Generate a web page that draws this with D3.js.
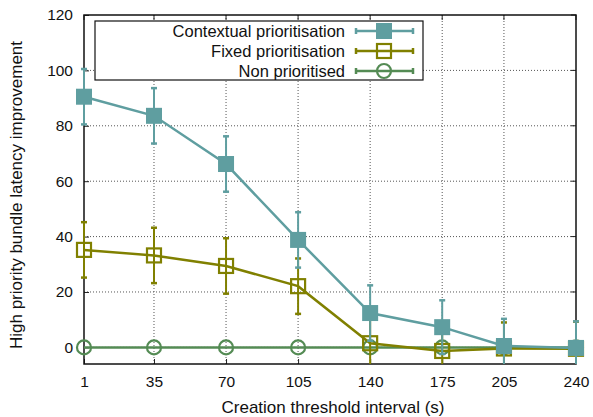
<!DOCTYPE html>
<html>
<head>
<meta charset="utf-8">
<script src="https://cdn.jsdelivr.net/npm/d3@7"></script>
<style>
  body { margin: 0; background: #fff; }
  text { font-family: "Liberation Sans", Arial, sans-serif; fill: #111; }
</style>
</head>
<body>
<div id="chart"></div>
<script>
// Creation threshold interval (s)
var intervals = [1, 35, 70, 105, 140, 175, 205, 240];

var contextualMean = [90.5, 83.6, 66.2, 38.8, 12.4, 7.3, 0.5, -0.2];
var contextualErr  = [10, 10, 10, 10, 10, 9.7, 9.8, 9.6];

var fixedMean = [35.2, 33.2, 29.4, 22.1, 1.5, -1.3, -0.4, -0.5];
var fixedErr  = [10, 10, 10, 10, 10, 9.5, 9.4, 9.8];

var nonMean = [0, 0, 0, 0, 0, 0, 0, 0];
var nonErr  = [0, 0, 0, 0, 0, 0, 0, 0];

var yTicks = [0, 20, 40, 60, 80, 100, 120];

var series = [
  {name: "Contextual prioritisation", mean: contextualMean, err: contextualErr, color: "#5f9ea0", marker: "filledSquare"},
  {name: "Fixed prioritisation", mean: fixedMean, err: fixedErr, color: "#808000", marker: "openSquare"},
  {name: "Non prioritised", mean: nonMean, err: nonErr, color: "#548b54", marker: "openCircle"}
];

var margin = {top: 15, right: 17, bottom: 53, left: 84};
var width = 593 - margin.left - margin.right,
    height = 417 - margin.top - margin.bottom;

var svg = d3.select("#chart").append("svg")
  .attr("width", 593)
  .attr("height", 417)
  .append("g")
  .attr("transform", "translate(" + margin.left + "," + margin.top + ")");

var x = d3.scaleLinear().domain([1, 240]).range([0, width]);
var y = d3.scaleLinear().domain([-6, 120]).range([height, 0]);

svg.append("clipPath").attr("id", "plot-clip")
  .append("rect").attr("x", -4).attr("width", width + 8).attr("height", height);

// Grid
svg.append("g").selectAll("line.gx")
  .data(intervals.slice(1, -1))
  .enter().append("line")
  .attr("x1", function(d){ return x(d); }).attr("x2", function(d){ return x(d); })
  .attr("y1", 0).attr("y2", height)
  .attr("stroke", "#555").attr("stroke-width", 1).attr("stroke-dasharray", "1,2");

svg.append("g").selectAll("line.gy")
  .data(yTicks.slice(0, -1))
  .enter().append("line")
  .attr("x1", 0).attr("x2", width)
  .attr("y1", function(d){ return y(d); }).attr("y2", function(d){ return y(d); })
  .attr("stroke", "#555").attr("stroke-width", 1).attr("stroke-dasharray", "1,2");

// Axes
var xAxis = d3.axisBottom(x).tickValues(intervals).tickSize(-5).tickPadding(12);
var yAxis = d3.axisLeft(y).tickValues(yTicks).tickSize(-5).tickPadding(11);

var gx = svg.append("g").attr("transform", "translate(0," + height + ")").call(xAxis);
var gy = svg.append("g").call(yAxis);
[gx, gy].forEach(function(g){
  g.select(".domain").remove();
  g.selectAll(".tick line").attr("stroke", "#222");
  g.selectAll(".tick text").style("font-size", "15.5px").style("fill", "#111")
    .style("font-family", "'Liberation Sans', Arial, sans-serif");
});

// mirror ticks
svg.append("g").selectAll("line")
  .data(intervals).enter().append("line")
  .attr("x1", function(d){ return x(d); }).attr("x2", function(d){ return x(d); })
  .attr("y1", 0).attr("y2", 5).attr("stroke", "#222");
svg.append("g").selectAll("line")
  .data(yTicks).enter().append("line")
  .attr("x1", width).attr("x2", width - 5)
  .attr("y1", function(d){ return y(d); }).attr("y2", function(d){ return y(d); })
  .attr("stroke", "#222");

// Border
svg.append("rect").attr("width", width).attr("height", height)
  .attr("fill", "none").attr("stroke", "#111").attr("stroke-width", 1.5);

// Axis labels
svg.append("text")
  .attr("text-anchor", "middle")
  .attr("transform", "translate(" + (-62) + "," + (180) + ")rotate(-90)")
  .style("font-size", "17px")
  .text("High priority bundle latency improvement");

svg.append("text")
  .attr("text-anchor", "middle")
  .attr("x", width / 2 + 3)
  .attr("y", height + 49)
  .style("font-size", "17px")
  .text("Creation threshold interval (s)");

function drawMarker(g, type, color, cx, cy) {
  if (type == "filledSquare") {
    g.append("rect").attr("x", cx - 8).attr("y", cy - 8).attr("width", 16).attr("height", 16)
      .attr("fill", color);
  } else if (type == "openSquare") {
    g.append("rect").attr("x", cx - 7).attr("y", cy - 7).attr("width", 14).attr("height", 14)
      .attr("fill", "none").attr("stroke", color).attr("stroke-width", 2.2);
  } else {
    g.append("circle").attr("cx", cx).attr("cy", cy).attr("r", 7)
      .attr("fill", "none").attr("stroke", color).attr("stroke-width", 2.2);
  }
}

var line = d3.line()
  .x(function(d){ return x(d.x); })
  .y(function(d){ return y(d.y); });

// Draw series in reverse order so contextual is on top
series.slice().reverse().forEach(function(s){
  var pts = intervals.map(function(v, i){ return {x: v, y: s.mean[i], e: s.err[i]}; });
  var g = svg.append("g");

  var eb = g.append("g").attr("clip-path", "url(#plot-clip)");
  pts.forEach(function(p){
    if (p.e <= 0) return;
    eb.append("line")
      .attr("x1", x(p.x)).attr("x2", x(p.x))
      .attr("y1", y(p.y - p.e)).attr("y2", y(p.y + p.e))
      .attr("stroke", s.color).attr("stroke-width", 2);
    [p.y - p.e, p.y + p.e].forEach(function(v){
      eb.append("line")
        .attr("x1", x(p.x) - 3).attr("x2", x(p.x) + 3)
        .attr("y1", y(v)).attr("y2", y(v))
        .attr("stroke", s.color).attr("stroke-width", 2.5);
    });
  });

  g.append("path").datum(pts)
    .attr("d", line)
    .attr("fill", "none").attr("stroke", s.color).attr("stroke-width", 2.5);

  pts.forEach(function(p){ drawMarker(g, s.marker, s.color, x(p.x), y(p.y)); });
});

// Legend
var legend = svg.append("g").attr("transform", "translate(" + (95 - margin.left) + "," + (21 - margin.top) + ")");
legend.append("rect").attr("width", 328).attr("height", 59)
  .attr("fill", "#fff").attr("stroke", "#111").attr("stroke-width", 1.2);

series.forEach(function(s, i){
  var cy = 10 + i * 20;
  legend.append("text")
    .attr("x", 250).attr("y", cy + 6)
    .attr("text-anchor", "end")
    .style("font-size", "16.5px")
    .text(s.name);
  legend.append("line")
    .attr("x1", 261).attr("x2", 318).attr("y1", cy).attr("y2", cy)
    .attr("stroke", s.color).attr("stroke-width", 2.5);
  [261, 318].forEach(function(xx){
    legend.append("line")
      .attr("x1", xx).attr("x2", xx).attr("y1", cy - 3).attr("y2", cy + 3)
      .attr("stroke", s.color).attr("stroke-width", 2.5);
  });
  drawMarker(legend, s.marker, s.color, 289, cy);
});
</script>
</body>
</html>
